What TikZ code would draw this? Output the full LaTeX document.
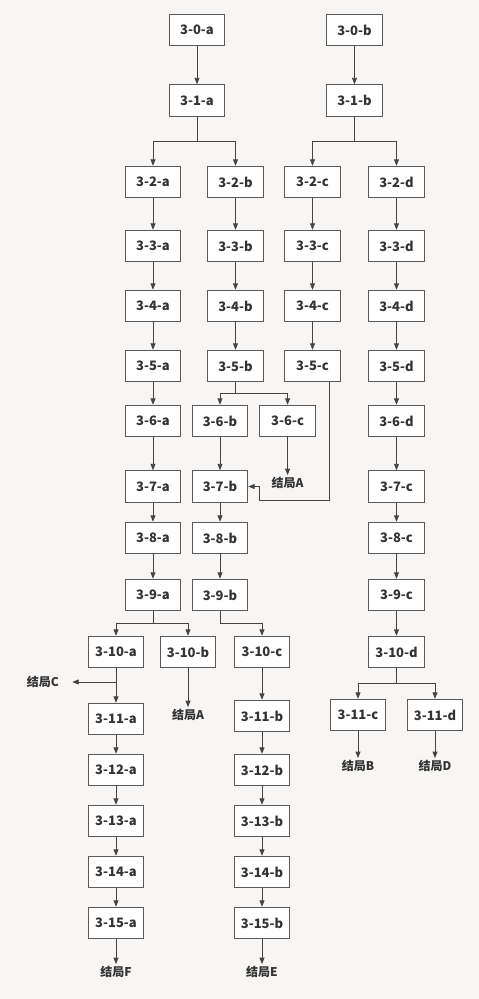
\documentclass[tikz,border=0pt]{standalone}
\usepackage{fontspec}
\setmainfont{Noto Sans CJK SC}
\usepackage{tikz}
\usetikzlibrary{arrows.meta,positioning,calc}
\definecolor{ink}{HTML}{333333}
\definecolor{edge}{HTML}{5A5A5A}
\definecolor{wire}{HTML}{444444}
\definecolor{paper}{HTML}{F7F6F5}
\tikzset{
  box/.style={draw=edge,line width=0.9pt,fill=white,text=ink,font=\bfseries\fontsize{13}{15}\selectfont,minimum width=55.5pt,minimum height=31.5pt,inner sep=0pt},
  ending/.style={text=ink,font=\bfseries\fontsize{12}{14}\selectfont,inner sep=2pt},
  flow/.style={-{Triangle[length=6.5pt,width=5pt]},line width=0.9pt,draw=wire}
}

\begin{document}
\begin{tikzpicture}[x=1pt,y=-1pt]
  \fill[paper] (0,0) rectangle (479,999);
  \node[box] (a0) at (197,30) {3-0-a};
  \node[box] (b0) at (354.5,30) {3-0-b};
  \node[box] (a1) at (197,100.5) {3-1-a};
  \node[box] (b1) at (354.5,100.5) {3-1-b};
  \foreach \r/\y in {2/182,3/246,4/306,5/366,6/421,7/486.5,8/538,9/595}
    \node[box] (a\r) at (153,\y) {3-\r-a};
  \foreach \r/\y in {10/652,11/719,12/770,13/821,14/872,15/923}
    \node[box] (a\r) at (116,\y) {3-\r-a};
  \foreach \r/\y in {2/182,3/246,4/306,5/366}
    \node[box] (b\r) at (235.5,\y) {3-\r-b};
  \foreach \r/\y in {6/421,7/486.5,8/538,9/595}
    \node[box] (b\r) at (220,\y) {3-\r-b};
  \node[box] (b10) at (188,652) {3-10-b};
  \foreach \r/\y in {11/716,12/770,13/821,14/872,15/923}
    \node[box] (b\r) at (262,\y) {3-\r-b};
  \foreach \r/\y in {2/182,3/246,4/306,5/366}
    \node[box] (c\r) at (312.5,\y) {3-\r-c};
  \node[box] (c6) at (287.6,421) {3-6-c};
  \foreach \r/\y in {7/486.5,8/538,9/595}
    \node[box] (c\r) at (396.5,\y) {3-\r-c};
  \node[box] (c10) at (262,652) {3-10-c};
  \node[box] (c11) at (358,715) {3-11-c};
  \foreach \r/\y in {2/182,3/246,4/306,5/366,6/421,10/652}
    \node[box] (d\r) at (396.5,\y) {3-\r-d};
  \node[box] (d11) at (435,715) {3-11-d};

  \node[ending] (endA1) at (287.6,483) {结局A};
  \node[ending] (endC) at (43,682) {结局C};
  \node[ending] (endA2) at (188,715) {结局A};
  \node[ending] (endB) at (358,766) {结局B};
  \node[ending] (endD) at (435,766) {结局D};
  \node[ending] (endF) at (116,972) {结局F};
  \node[ending] (endE) at (262,972) {结局E};

  \foreach \a/\b in {a0/a1,a2/a3,a3/a4,a4/a5,a5/a6,a6/a7,a7/a8,a8/a9,a10/a11,a11/a12,a12/a13,a13/a14,a14/a15,a15/endF,
    b0/b1,b2/b3,b3/b4,b4/b5,b6/b7,b7/b8,b8/b9,b10/endA2,c10/b11,b11/b12,b12/b13,b13/b14,b14/b15,b15/endE,
    c2/c3,c3/c4,c4/c5,c6/endA1,d6/c7,c7/c8,c8/c9,c9/d10,c11/endB,
    d2/d3,d3/d4,d4/d5,d5/d6,d11/endD}
    \draw[flow] (\a) -- (\b);
  \foreach \s/\t/\h in {a1/a2/25,a1/b2/25,b1/c2/25,b1/d2/25,b5/b6/11,b5/c6/11,a9/a10/12,a9/b10/12,b9/c10/12,d10/c11/15,d10/d11/15}
    \draw[flow] (\s.south) -- ++(0,\h) -| (\t);
  \draw[flow] ([xshift=16.5pt]c5.south) |- ([xshift=11pt,yshift=-13.5pt]b7.east) -- ([xshift=11pt]b7.east) -- (b7.east);
  \draw[flow,shorten >=11pt] (a10.south |- endC) -- (endC);
\end{tikzpicture}
\end{document}
